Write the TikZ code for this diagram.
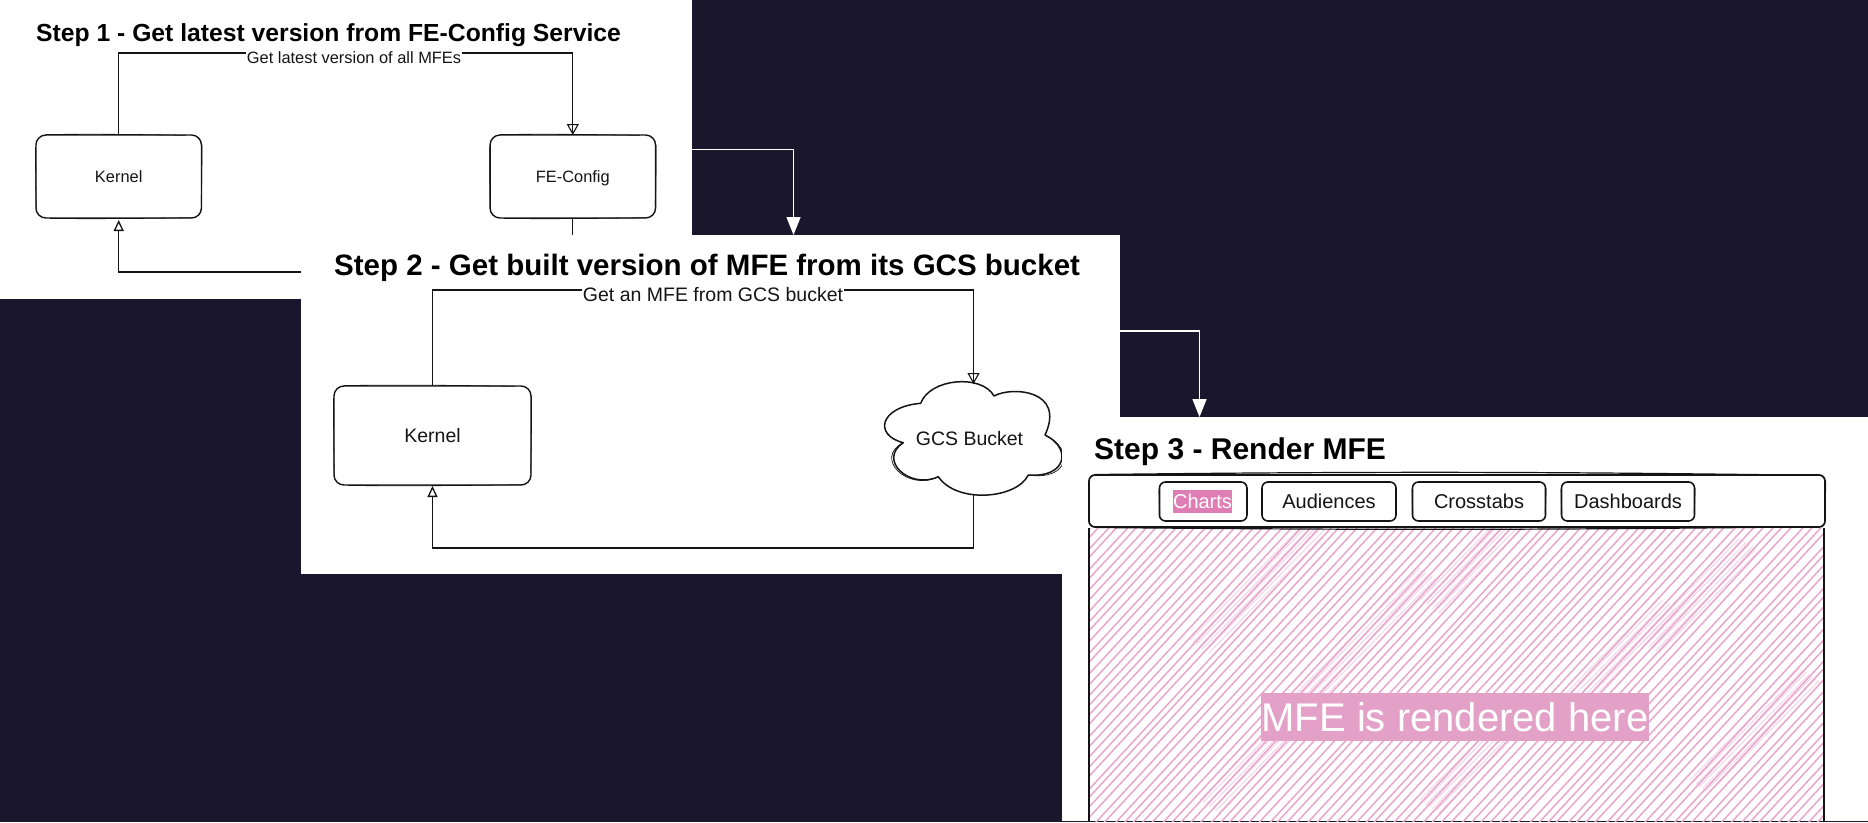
\documentclass[tikz,border=0pt]{standalone}
\usepackage{fontspec}
\setmainfont{Liberation Sans}
\usetikzlibrary{arrows.meta,calc}
\definecolor{bgdark}{HTML}{1A172C}
\definecolor{ink}{HTML}{141414}
\definecolor{hatch}{HTML}{E8A6CC}
\definecolor{hatchlight}{HTML}{F5D6E8}
\definecolor{mfefill}{HTML}{E3A1C8}
\definecolor{chartfill}{HTML}{DF7DB5}
\newcommand{\fs}[1]{\fontsize{#1}{#1}\selectfont}
% extra hand-drawn strokes along a box: node, corner radius, stroke width
\newcommand{\sketchover}[3]{%
  \draw[ink,line width=#3,line cap=round]
    ($(#1.north west)+(#2,-.5)$) to[bend left=.7] ($(#1.north east)+(-#2-6,.3)$)
    ($(#1.south west)+(#2+4,.5)$) to[bend right=.6] ($(#1.south east)+(-#2,-.3)$)
    ($(#1.north west)+(-.4,#2+2)$) to[bend right=.6] ($(#1.south west)+(.3,-#2)$)
    ($(#1.north east)+(.5,#2)$) to[bend left=.6] ($(#1.south east)+(-.3,-#2-2)$);
}
\tikzset{
  x=1pt,y=-1pt,
  panel/.style={fill=white,draw=none,inner sep=0pt,outer sep=0pt,anchor=north west},
  sk/.style={draw=ink,line width=1.4pt,rounded corners=10pt,fill=white,inner sep=0pt,outer sep=0pt,text=ink},
  tab/.style={sk,line width=1.6pt,rounded corners=6pt,minimum height=39pt,text height=14.5pt,text depth=0pt,font=\fs{20}},
  title/.style={anchor=base west,inner sep=0pt,font=\bfseries\fs{#1},text=black},
  lbl/.style={fill=white,inner xsep=1pt,inner ysep=1pt,font=\fs{#1},text=ink},
  conn/.style={draw=ink,line width=1.3pt},
  tipa/.style={-{Triangle[open,fill=none,length=11pt,width=12pt,line width=1.1pt]}},
  tipb/.style={-{Triangle[open,fill=white,length=11pt,width=10pt,line width=1.3pt]}},
  whitearrow/.style={draw=white,line width=1.5pt,-{Triangle[length=18pt,width=14pt,fill=white]}},
}
\begin{document}
\begin{tikzpicture}
\useasboundingbox (0,0) rectangle (1868,822);
\fill[bgdark] (0,0) rectangle (1868,822);

% ---------- panel 1
\node[panel,minimum width=692pt,minimum height=299pt] (p1) at (0,0) {};
\node[title=24.7] (t1) at (36,41) {Step 1 - Get latest version from FE-Config Service};
\node[sk,minimum width=165.5pt,minimum height=83pt,text height=12pt,text depth=0pt,font=\fs{16.4}] (k1) at (118.7,176.5) {Kernel};
\node[sk,minimum width=165.5pt,minimum height=83pt,text height=12pt,text depth=0pt,font=\fs{16.4}] (fe) at (572.8,176.5) {FE-Config};
\sketchover{k1}{10}{.8pt}
\sketchover{fe}{10}{.8pt}
\coordinate (u1) at (346,53);
\coordinate (d1) at (346,272);
\draw[conn,tipa] (k1.north) |- (u1) -| (fe.north);
\draw[conn] ($(fe.north)+(0,-11)$) -- (fe.north);
\draw[conn,tipb,shorten >=2pt] (fe.south) |- (d1) -| (k1.south);
\node[lbl=16.4] (l1) at (354,58) {Get latest version of all MFEs};

% ---------- arrow 1 -> 2
\coordinate (a1) at (793.5,235);
\draw[whitearrow] (p1.east) -| (a1);

% ---------- panel 2
\node[panel,minimum width=819pt,minimum height=339pt] (p2) at (301,235) {};
\node[title=29.5] (t2) at (334,275) {Step 2 - Get built version of MFE from its GCS bucket};
\node[sk,minimum width=197pt,minimum height=99pt,text height=14pt,text depth=0pt,font=\fs{19.5}] (k2) at (432.5,435.5) {Kernel};
\sketchover{k2}{10}{.8pt}
% cloud outline
\node[inner sep=0pt,outer sep=0pt,minimum width=178pt,minimum height=110pt,font=\fs{19.5},text=ink] (gcs) at (973.5,384) [yshift=-55pt] {\hspace*{-8pt}GCS Bucket};
\coordinate (u2) at (703,290);
\coordinate (d2) at (703,548);
\draw[conn,tipb,shorten >=1pt] (gcs.south) |- (d2) -| (k2.south);
\draw[conn,tipa] (k2.north) |- (u2) -| (gcs.north);
\draw[conn] ($(gcs.north)+(0,-11)$) -- (gcs.north);
\draw[ink,line width=1.5pt,line join=round]
  (920.7,403.3) .. controls (930,378) and (982,374) .. (994,396)
  .. controls (1012,386) and (1066,390) .. (1045,435)
  .. controls (1072,448) and (1067,478) .. (1028.3,475)
  .. controls (1016.7,499) and (956.7,504) .. (938.3,476.7)
  .. controls (910,490) and (877,460) .. (903.3,442.7)
  .. controls (873,435) and (880,406.7) .. (920.7,403.3);
\draw[ink,line width=.7pt]
  (938.3,476.7) .. controls (908,492) and (873,458) .. (903.3,442.7);
\draw[ink,line width=.7pt]
  (1045,435) .. controls (1075,449) and (1069,481) .. (1028.3,475);
\node[lbl=19.5] (l2) at (713,295) {Get an MFE from GCS bucket};

% ---------- arrow 2 -> 3
\coordinate (s2) at (1120,331);
\coordinate (a2) at (1199.5,417);
\draw[whitearrow] (s2) -| (a2);

% ---------- panel 3
\node[panel,minimum width=806pt,minimum height=404pt] (p3) at (1062,417) {};
\node[title=30] (t3) at (1094,459) {Step 3 - Render MFE};
\node[inner sep=0pt,outer sep=0pt,anchor=north west,minimum width=735pt,minimum height=293pt] (main) at (1089,528) {};
\begin{scope}
  \clip (main.north west) rectangle (main.south east);
  \foreach \cx/\cy/\ln in {1190/640/120,1290/700/130,1200/800/90,1420/600/110,1530/730/130,1690/780/110,1640/640/100,1420/800/80}{
    \foreach \k in {0,...,6}{
      \draw[hatchlight,line width=1pt] (\cx+\k*3.1,\cy+\k*2.2) -- ++(\ln,-\ln*1.02);
    }
  }
  \pgfmathsetseed{11}
  \foreach \i in {0,...,108}{
    \pgfmathsetmacro{\c}{520+\i*10.4+3.5*rnd}
    \draw[hatch,line width=1.5pt] (1085,\c) -- (1830,\c-745*1.08);
  }
\end{scope}
\draw[ink,line width=2pt] (main.north west) -- (main.south west);
\draw[ink,line width=2pt] (main.north east) -- (main.south east);
\node[sk,line width=1.7pt,rounded corners=6pt,minimum width=736pt,minimum height=52pt] (nav) at (1457,501) {};
\sketchover{nav}{6}{1.2pt}
\node[tab,minimum width=87.5pt] (tb1) at (1203.2,501.5) {};
\node[tab,minimum width=134pt] (tb2) at (1329,501.5) {Audiences};
\node[tab,minimum width=133pt] (tb3) at (1479,501.5) {Crosstabs};
\node[tab,minimum width=133pt] (tb4) at (1628,501.5) {Dashboards};
\sketchover{tb1}{6}{.8pt}
\sketchover{tb2}{6}{.8pt}
\sketchover{tb3}{6}{.8pt}
\sketchover{tb4}{6}{.8pt}
\node[fill=chartfill,text=white,inner xsep=0pt,inner ysep=0pt,minimum height=23pt,text height=14.5pt,text depth=0pt,font=\fs{20}] (chartlbl) at (1202.5,501.5) {Charts};
\node[fill=mfefill,text=white,inner xsep=1pt,inner ysep=0pt,minimum height=48pt,font=\fs{40}] (mfe) at (1455,717) {MFE is rendered here};
\end{tikzpicture}
\end{document}
